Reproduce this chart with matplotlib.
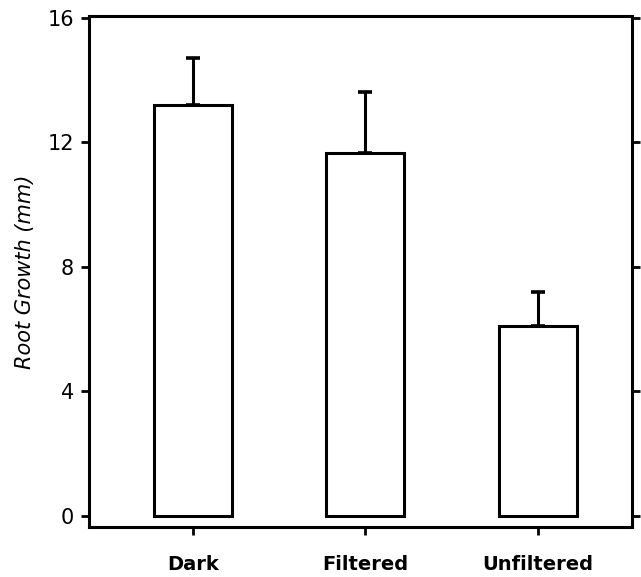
import matplotlib
matplotlib.use("Agg")
import matplotlib.pyplot as plt

# data
categories = ["Dark", "Filtered", "Unfiltered"]
growth = [13.2, 11.65, 6.1]
err_up = [1.5, 1.95, 1.1]
y_ticks = [0, 4, 8, 12, 16]

fig = plt.figure(figsize=(6.41, 5.77), dpi=100)
ax = fig.add_axes([0.139, 0.087, 0.847, 0.885])

x = range(len(categories))
ax.bar(x, growth, width=0.45, color="white", edgecolor="black", linewidth=2.2, zorder=2)
ax.errorbar(x, growth, yerr=[[0] * 3, err_up], fmt="none", ecolor="black",
            elinewidth=2.2, capsize=5, capthick=2.6, zorder=1)

ax.set_xlim(-0.6, 2.545)
ax.set_ylim(-0.35, 16.05)
ax.set_xticks(list(x))
ax.set_xticklabels(categories, fontsize=14, fontweight="bold")
ax.set_yticks(y_ticks)
ax.set_yticklabels([str(t) for t in y_ticks], fontsize=15)
ax.tick_params(axis="x", direction="out", length=6, width=2, pad=14)
ax.tick_params(axis="y", direction="out", length=6, width=2, pad=5, right=True)

for s in ax.spines.values():
    s.set_linewidth(2.2)

ax.set_ylabel("Root Growth (mm)", fontsize=15, style="italic")
ax.yaxis.set_label_coords(-0.10, 0.5)

fig.savefig("out.png", dpi=100)
